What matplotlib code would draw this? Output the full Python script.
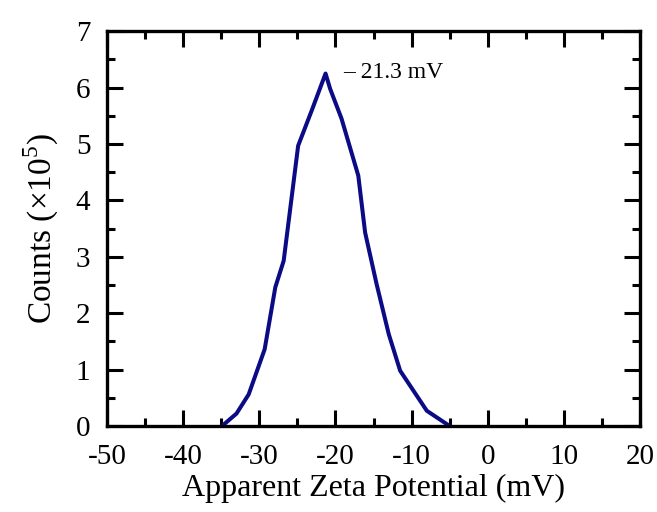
"""Apparent zeta potential distribution (counts vs mV)."""

import matplotlib
matplotlib.use("Agg")
import matplotlib.pyplot as plt
from matplotlib.ticker import MultipleLocator

# values
zeta_mv = [-34.9, -33.0, -31.4, -29.3, -27.9, -26.8, -24.9, -23.1, -21.3,
           -20.7, -19.2, -17.0, -16.1, -14.6, -13.0, -11.5, -8.0, -5.0]
counts_e5 = [0.0, 0.22, 0.56, 1.36, 2.46, 2.93, 4.97, 5.6, 6.25,
             5.98, 5.45, 4.44, 3.43, 2.52, 1.63, 0.98, 0.27, 0.0]
peak_mv = -21.3

plt.rcParams["font.family"] = ["Liberation Serif", "DejaVu Serif"]
plt.rcParams["mathtext.fontset"] = "custom"
plt.rcParams["mathtext.rm"] = "Liberation Serif"
plt.rcParams["axes.unicode_minus"] = False

fig = plt.figure(figsize=(6.57, 5.12), dpi=100)
ax = fig.add_axes([0.163, 0.168, 0.811, 0.771])

ax.plot(zeta_mv, counts_e5, color="#0b0b86", lw=2.9)
ax.text(-19.0, 6.27, f"\u2013 {abs(peak_mv):.1f} mV", fontsize=17,
        va="center", ha="left")

ax.set_xlim(-50, 20)
ax.set_ylim(0, 7)
ax.xaxis.set_major_locator(MultipleLocator(10))
ax.xaxis.set_minor_locator(MultipleLocator(5))
ax.yaxis.set_major_locator(MultipleLocator(1))
ax.yaxis.set_minor_locator(MultipleLocator(0.5))
ax.tick_params(which="both", direction="in", top=True, right=True,
               width=2.2, labelsize=21)
ax.tick_params(axis="x", which="both", pad=13)
ax.tick_params(axis="y", which="both", pad=12)
ax.tick_params(which="major", length=11.5)
ax.tick_params(which="minor", length=6)
for s in ax.spines.values():
    s.set_linewidth(2.4)

ax.set_xlabel("Apparent Zeta Potential (mV)", fontsize=23, labelpad=3)
ax.set_ylabel(r"Counts ($\times$10$^5$)", fontsize=24, labelpad=11)

fig.savefig("out.png", dpi=100)
